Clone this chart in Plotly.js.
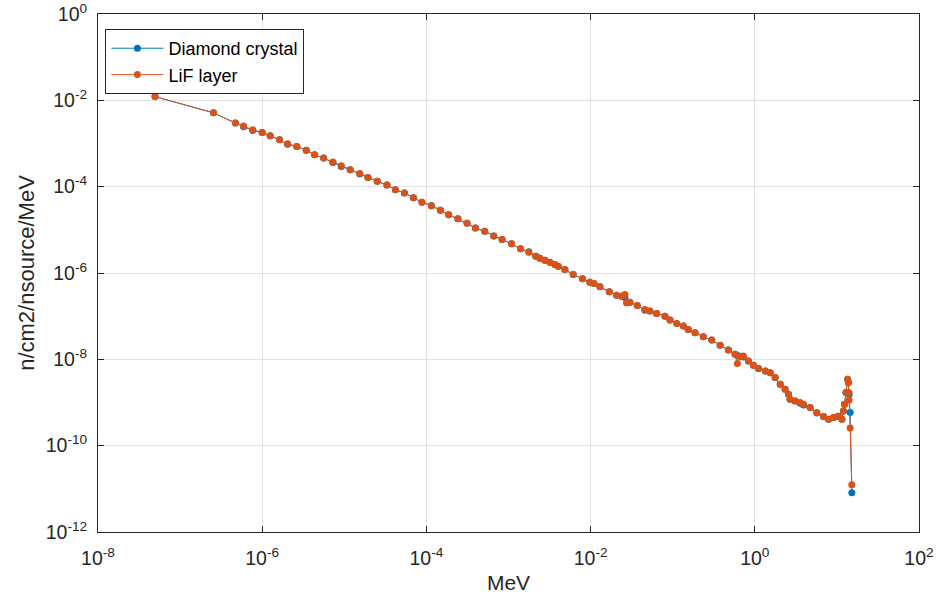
<!DOCTYPE html>
<html>
<head>
<meta charset="utf-8">
<script src="https://cdn.plot.ly/plotly-3.0.1.min.js"></script>
<style>html,body{margin:0;padding:0;background:#fff;}#chart{width:937px;height:599px;}</style>
</head>
<body>
<div id="chart"></div>
<script>
// Energy (MeV) and flux (n/cm2/nsource/MeV)
const lifEnergy = [
  4.95e-8, 2.55e-7, 4.72e-7, 5.92e-7, 7.67e-7, 1.0e-6, 1.25e-6, 1.63e-6, 2.04e-6, 2.64e-6,
  3.44e-6, 4.35e-6, 5.60e-6, 7.26e-6, 9.18e-6, 1.18e-5, 1.54e-5, 1.94e-5, 2.52e-5, 3.31e-5,
  4.19e-5, 5.40e-5, 6.94e-5, 8.83e-5, 1.15e-4, 1.48e-4, 1.87e-4, 2.42e-4, 3.13e-4, 3.96e-4,
  5.14e-4, 6.62e-4, 8.36e-4, 1.09e-3, 1.40e-3, 1.77e-3, 2.15e-3, 2.41e-3, 2.77e-3, 3.19e-3,
  3.67e-3, 4.03e-3, 4.86e-3, 6.14e-3, 7.98e-3, 9.79e-3, 1.10e-2, 1.30e-2, 1.69e-2, 2.07e-2,
  2.39e-2, 2.62e-2, 2.75e-2, 3.01e-2, 3.70e-2, 4.59e-2, 5.28e-2, 6.38e-2, 8.05e-2, 9.27e-2,
  0.112, 0.135, 0.155, 0.187, 0.236, 0.299, 0.378, 0.477, 0.575, 0.614,
  0.662, 0.726, 0.836, 0.962, 1.11, 1.34, 1.54, 1.77, 2.04, 2.34,
  2.57, 2.69, 3.10, 3.56, 3.92, 4.72, 5.70, 6.87, 7.91, 9.10,
  10.4, 11.5, 12.0, 12.4, 12.9, 13.5, 13.8, 14.0, 14.1, 14.5, 15.2
];
const lifFlux = [
  1.22e-2, 5.14e-3, 2.97e-3, 2.53e-3, 2.08e-3, 1.80e-3, 1.51e-3, 1.22e-3, 9.87e-4, 8.55e-4,
  6.98e-4, 5.50e-4, 4.61e-4, 3.73e-4, 3.06e-4, 2.47e-4, 2.03e-4, 1.64e-4, 1.33e-4, 1.09e-4,
  8.53e-5, 7.15e-5, 5.57e-5, 4.34e-5, 3.58e-5, 2.83e-5, 2.23e-5, 1.80e-5, 1.42e-5, 1.11e-5,
  9.25e-6, 7.24e-6, 5.95e-6, 4.73e-6, 3.63e-6, 3.03e-6, 2.45e-6, 2.20e-6, 1.98e-6, 1.78e-6,
  1.57e-6, 1.44e-6, 1.20e-6, 9.23e-7, 7.35e-7, 6.12e-7, 5.71e-7, 4.80e-7, 3.67e-7, 3.07e-7,
  2.91e-7, 3.18e-7, 2.05e-7, 2.11e-7, 1.77e-7, 1.43e-7, 1.31e-7, 1.16e-7, 1.00e-7, 8.11e-8,
  6.79e-8, 5.89e-8, 4.94e-8, 4.14e-8, 3.35e-8, 2.79e-8, 2.11e-8, 1.64e-8, 1.31e-8, 7.96e-9,
  1.15e-8, 1.19e-8, 9.14e-9, 7.26e-9, 6.10e-9, 5.36e-9, 4.92e-9, 3.78e-9, 2.64e-9, 2.02e-9,
  1.55e-9, 1.19e-9, 1.09e-9, 9.97e-10, 9.12e-10, 7.64e-10, 5.86e-10, 4.73e-10, 4.10e-10, 4.49e-10,
  4.81e-10, 4.10e-10, 6.38e-10, 9.12e-10, 1.70e-9, 3.45e-9, 2.89e-9, 1.70e-9, 1.15e-9, 2.58e-10, 1.24e-11
];
const diamondEnergy = [
  4.95e-8, 2.55e-7, 4.72e-7, 5.92e-7, 7.67e-7, 1.0e-6, 1.25e-6, 1.63e-6, 2.04e-6, 2.64e-6,
  3.44e-6, 4.35e-6, 5.60e-6, 7.26e-6, 9.18e-6, 1.18e-5, 1.54e-5, 1.94e-5, 2.52e-5, 3.31e-5,
  4.19e-5, 5.40e-5, 6.94e-5, 8.83e-5, 1.15e-4, 1.48e-4, 1.87e-4, 2.42e-4, 3.13e-4, 3.96e-4,
  5.14e-4, 6.62e-4, 8.36e-4, 1.09e-3, 1.40e-3, 1.77e-3, 2.15e-3, 2.41e-3, 2.77e-3, 3.19e-3,
  3.67e-3, 4.03e-3, 4.86e-3, 6.14e-3, 7.98e-3, 9.79e-3, 1.10e-2, 1.30e-2, 1.69e-2, 2.07e-2,
  2.39e-2, 2.62e-2, 2.75e-2, 3.01e-2, 3.70e-2, 4.59e-2, 5.28e-2, 6.38e-2, 8.05e-2, 9.27e-2,
  0.112, 0.135, 0.155, 0.187, 0.236, 0.299, 0.378, 0.477, 0.575, 0.614,
  0.662, 0.726, 0.836, 0.962, 1.11, 1.34, 1.54, 1.77, 2.04, 2.34,
  2.57, 2.69, 3.10, 3.56, 3.92, 4.72, 5.70, 6.87, 7.91, 9.10,
  10.4, 11.5, 12.0, 12.4, 12.9, 13.5, 13.8, 14.1, 14.5, 15.2
];
const diamondFlux = [
  1.22e-2, 5.14e-3, 2.97e-3, 2.45e-3, 2.00e-3, 1.80e-3, 1.51e-3, 1.22e-3, 9.60e-4, 8.55e-4,
  6.98e-4, 5.50e-4, 4.61e-4, 3.62e-4, 2.95e-4, 2.47e-4, 1.97e-4, 1.64e-4, 1.33e-4, 1.09e-4,
  8.53e-5, 7.15e-5, 5.57e-5, 4.34e-5, 3.67e-5, 2.83e-5, 2.23e-5, 1.80e-5, 1.42e-5, 1.11e-5,
  9.25e-6, 7.24e-6, 5.95e-6, 4.73e-6, 3.63e-6, 3.10e-6, 2.45e-6, 2.20e-6, 1.98e-6, 1.78e-6,
  1.57e-6, 1.44e-6, 1.20e-6, 9.23e-7, 7.35e-7, 6.12e-7, 5.71e-7, 4.80e-7, 3.67e-7, 3.07e-7,
  2.91e-7, 2.70e-7, 2.05e-7, 2.11e-7, 1.77e-7, 1.38e-7, 1.31e-7, 1.16e-7, 1.00e-7, 8.11e-8,
  6.79e-8, 5.89e-8, 4.94e-8, 4.14e-8, 3.35e-8, 2.79e-8, 2.11e-8, 1.64e-8, 1.31e-8, 1.22e-8,
  1.18e-8, 1.14e-8, 9.14e-9, 7.26e-9, 6.10e-9, 5.36e-9, 4.92e-9, 3.78e-9, 2.64e-9, 2.02e-9,
  1.55e-9, 1.19e-9, 1.09e-9, 9.60e-10, 8.80e-10, 7.64e-10, 5.70e-10, 4.73e-10, 4.10e-10, 4.49e-10,
  4.81e-10, 4.10e-10, 6.38e-10, 9.12e-10, 1.70e-9, 3.45e-9, 2.89e-9, 1.55e-9, 5.86e-10, 8.1e-12
];
const seriesNames = ['Diamond crystal', 'LiF layer'];
const xTitle = 'MeV';
const yTitle = 'n/cm2/nsource/MeV';
const xTickVals = [1e-8, 1e-6, 1e-4, 1e-2, 1e0, 1e2];
const xTickText = ['10<sup>-8</sup>', '10<sup>-6</sup>', '10<sup>-4</sup>', '10<sup>-2</sup>', '10<sup>0</sup>', '10<sup>2</sup>'];
const yTickVals = [1e-12, 1e-10, 1e-8, 1e-6, 1e-4, 1e-2, 1e0];
const yTickText = ['10<sup>-12</sup>', '10<sup>-10</sup>', '10<sup>-8</sup>', '10<sup>-6</sup>', '10<sup>-4</sup>', '10<sup>-2</sup>', '10<sup>0</sup>'];

const FONT = 'Liberation Sans, Arial, Helvetica, sans-serif';
const TXT = '#262626';

const traces = [
  {x: diamondEnergy, y: diamondFlux, name: seriesNames[0], type: 'scatter', mode: 'lines+markers',
   line: {color: '#0072BD', width: 1}, marker: {color: '#0072BD', size: 7, symbol: 'circle'}},
  {x: lifEnergy, y: lifFlux, name: seriesNames[1], type: 'scatter', mode: 'lines+markers',
   line: {color: '#D95319', width: 1}, marker: {color: '#D95319', size: 7, symbol: 'circle'}}
];

const axisCommon = {
  type: 'log', showline: true, linecolor: TXT, linewidth: 1, mirror: 'ticks',
  ticks: 'inside', ticklen: 6, tickwidth: 1, tickcolor: TXT,
  showgrid: true, gridcolor: '#e2e2e2', gridwidth: 1, zeroline: false,
  tickmode: 'array',
  tickfont: {family: FONT, size: 19.5, color: TXT}
};

const layout = {
  width: 937, height: 599,
  margin: {l: 98, r: 18, t: 14, b: 67},
  paper_bgcolor: '#ffffff', plot_bgcolor: '#ffffff',
  showlegend: true,
  legend: {x: 0.009, y: 0.971, xanchor: 'left', yanchor: 'top',
           bgcolor: '#ffffff', bordercolor: TXT, borderwidth: 1,
           itemwidth: 52,
           font: {family: FONT, size: 18, color: '#000'}},
  xaxis: Object.assign({}, axisCommon, {range: [-8, 2], tickvals: xTickVals, ticktext: xTickText,
    ticklabelstandoff: 9,
    title: {text: xTitle, font: {family: FONT, size: 21, color: TXT}, standoff: 6}}),
  yaxis: Object.assign({}, axisCommon, {range: [-12, 0], tickvals: yTickVals, ticktext: yTickText,
    ticklabelstandoff: 6,
    title: {text: yTitle, font: {family: FONT, size: 22, color: TXT}, standoff: 4}})
};

Plotly.newPlot('chart', traces, layout, {displayModeBar: false, staticPlot: true});
</script>
</body>
</html>
